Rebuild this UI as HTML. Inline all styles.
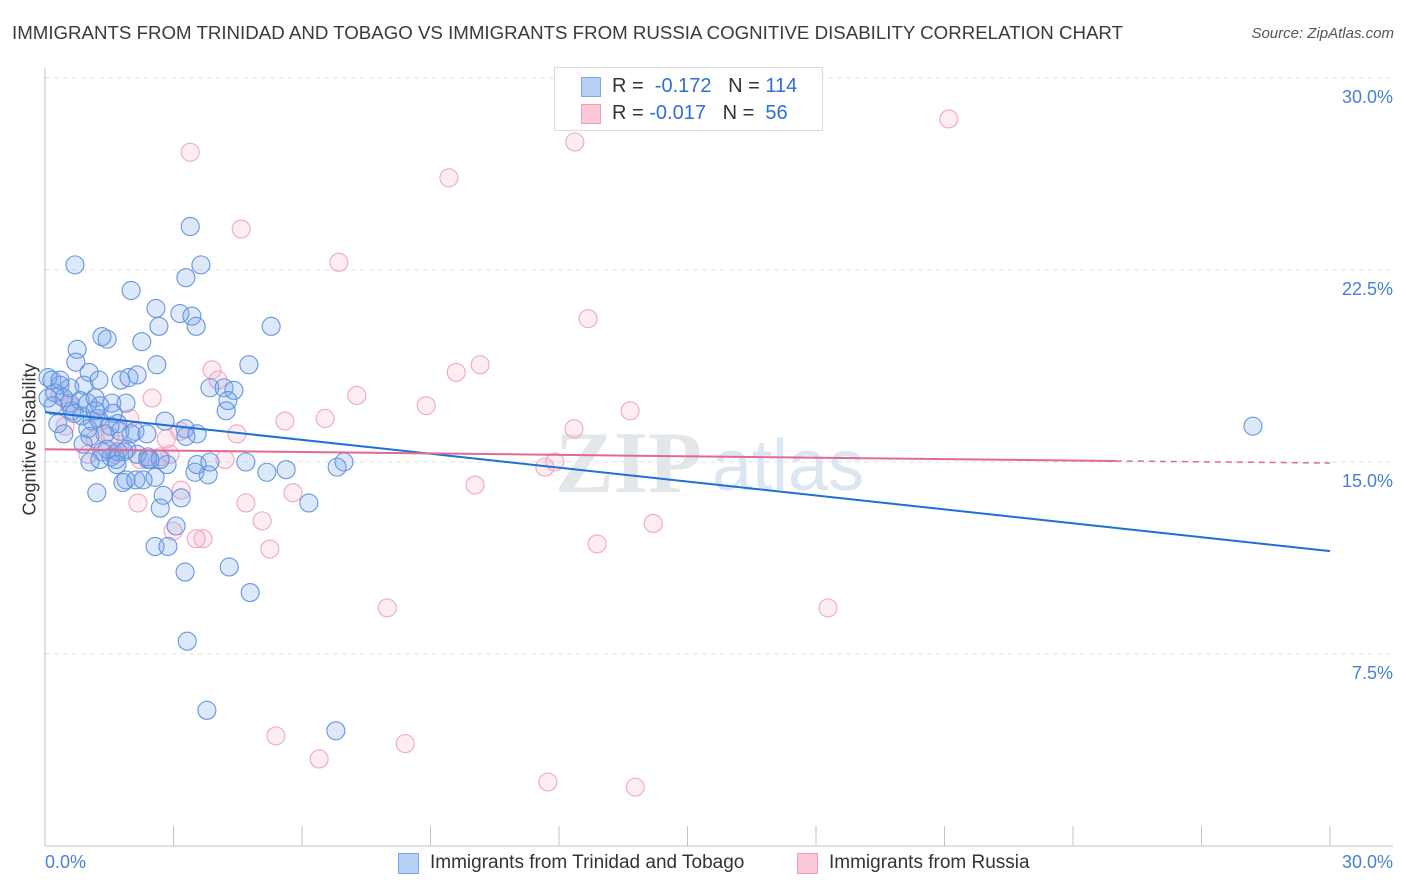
<!DOCTYPE html>
<html><head><meta charset="utf-8"><style>
body{margin:0;background:#fff;font-family:"Liberation Sans",sans-serif;}
#wrap{position:relative;width:1406px;height:892px;overflow:hidden;}
.t{position:absolute;white-space:nowrap;}
</style></head><body>
<div id="wrap">
<div class="t" style="left:12px;top:22px;font-size:18.7px;color:#3a3a3a;">IMMIGRANTS FROM TRINIDAD AND TOBAGO VS IMMIGRANTS FROM RUSSIA COGNITIVE DISABILITY CORRELATION CHART</div>
<div class="t" style="right:12px;top:25px;font-size:15px;color:#555;font-style:italic;">Source: ZipAtlas.com</div>
<svg id="plot" width="1406" height="892" style="position:absolute;left:0;top:0"></svg>
</div>
<script>
const blueX=[0.70,3.39,2.01,2.59,3.29,3.64,2.66,3.15,3.43,3.53,5.28,1.33,1.45,0.75,2.26,0.72,2.61,4.76,1.03,1.26,1.77,1.96,2.15,0.91,0.07,0.16,0.35,0.23,0.44,0.58,0.82,1.17,1.56,1.89,3.85,4.18,4.41,4.27,4.23,2.80,1.70,1.59,1.24,1.10,0.86,0.63,0.30,0.44,1.05,1.40,1.75,2.01,3.27,3.55,1.33,1.54,1.70,1.91,2.40,1.05,1.28,1.66,2.85,2.40,3.55,3.81,3.50,4.69,5.18,5.63,6.98,6.82,2.57,1.89,1.82,2.12,2.29,1.21,2.76,3.18,2.69,6.16,3.06,2.57,2.87,3.27,4.30,4.79,3.32,3.78,6.79,28.2,0.07,0.58,0.19,1.0,1.28,1.52,1.84,2.10,2.38,2.69,3.85,3.29,0.89,0.35,0.68,1.0,1.17,1.45,1.68,2.15,2.45];
const blueY=[22.7,24.2,21.7,21.0,22.2,22.7,20.3,20.8,20.7,20.3,20.3,19.9,19.8,19.4,19.7,18.9,18.8,18.8,18.5,18.2,18.2,18.3,18.4,18.0,18.3,18.2,18.0,17.7,17.5,17.3,17.4,17.5,17.3,17.3,17.9,17.9,17.8,17.4,17.0,16.6,16.5,16.9,16.7,16.6,16.8,17.0,16.5,16.1,16.0,16.1,16.2,16.1,16.3,16.1,15.4,15.2,15.4,15.5,15.2,15.0,15.1,15.1,14.9,15.1,14.9,14.5,14.6,15.0,14.6,14.7,15.0,14.8,14.4,14.3,14.2,14.3,14.3,13.8,13.7,13.6,13.2,13.4,12.5,11.7,11.7,10.7,10.9,9.9,8.0,5.3,4.5,16.4,17.5,17.9,17.2,17.3,17.2,16.4,15.4,16.2,16.1,15.1,15.0,16.0,15.7,18.2,16.9,16.3,17.0,15.5,14.9,15.3,15.1];
const pinkX=[3.39,12.37,21.1,9.43,4.58,6.86,12.68,3.90,10.16,9.60,4.04,7.28,2.50,8.90,13.66,5.60,6.54,1.98,4.48,2.83,1.52,12.35,1.75,1.0,2.69,4.20,11.67,11.9,10.04,3.18,5.79,4.69,2.17,5.07,14.2,2.99,3.53,3.69,5.25,12.89,7.99,18.28,5.39,6.40,8.41,11.74,13.78,0.35,0.58,1.28,0.47,1.17,2.22,2.92,3.15,1.63];
const pinkY=[27.1,27.5,28.4,26.1,24.1,22.8,20.6,18.6,18.8,18.5,18.2,17.6,17.5,17.2,17.0,16.6,16.7,16.7,16.1,15.9,16.0,16.3,15.7,15.3,15.2,15.1,14.8,15.0,14.1,13.9,13.8,13.4,13.4,12.7,12.6,12.3,12.0,12.0,11.6,11.8,9.3,9.3,4.3,3.4,4.0,2.5,2.3,17.6,17.2,16.6,16.4,15.9,15.1,15.3,16.2,15.3];
const blueTrend=[16.95,11.52];
const pinkTrend=[15.5,15.04,14.96];
const yTicks=[7.5,15,22.5,30];
const yTickLabels=["7.5%","15.0%","22.5%","30.0%"];

const NS="http://www.w3.org/2000/svg";
const svg=document.getElementById('plot');
const X0=45,X1=1330,Y0=846,Y30=78;
const sx=v=>X0+(X1-X0)*v/30;
const sy=v=>Y0-(Y0-Y30)*v/30;
function mk(tag,attrs,parent){const e=document.createElementNS(NS,tag);for(const k in attrs)e.setAttribute(k,attrs[k]);(parent||svg).appendChild(e);return e;}

yTicks.forEach((t,i)=>{
  const g=mk('line',{x1:X0,x2:1393,y1:sy(t),y2:sy(t),stroke:'#dde0e4','stroke-dasharray':'5,4','stroke-width':1});
  
  
  const tx=mk('text',{x:1393,y:sy(t)+25,'text-anchor':'end','font-size':18,fill:'#4a7fd6','font-family':'Liberation Sans, sans-serif'});
  tx.textContent=yTickLabels[i];
  
  
});
const wm=mk('text',{x:555,y:492,'font-size':88,fill:'#e4e7ea','font-family':'Liberation Serif, serif','font-weight':'bold'});
wm.textContent='ZIP';


const wm2=mk('text',{x:712,y:490,'font-size':72,fill:'#dbe6f3','font-family':'Liberation Sans, sans-serif'});
wm2.textContent='atlas';


const ya=mk('line',{x1:X0,x2:X0,y1:68,y2:Y0,stroke:'#bfc3c8','stroke-width':1});


const xa=mk('line',{x1:X0,x2:1393,y1:Y0,y2:Y0,stroke:'#bfc3c8','stroke-width':1});


for(let i=0;i<=10;i++){
  const tk=mk('line',{x1:sx(i*3),x2:sx(i*3),y1:Y0,y2:Y0-20,stroke:'#bfc3c8','stroke-width':1});
  
  
}
function pts(xs,ys,fill,stroke,name){
  xs.forEach((x,i)=>{
    const c=mk('circle',{cx:sx(x),cy:sy(ys[i]),r:9,fill:fill,stroke:stroke,'stroke-width':1.1});
    
    
  });
}
pts(pinkX,pinkY,'rgba(245,160,190,0.2)','#efa8c0','russia-point');
pts(blueX,blueY,'rgba(120,165,235,0.25)','#6496df','trinidad-point');
const bl=mk('line',{x1:sx(0),y1:sy(blueTrend[0]),x2:sx(30),y2:sy(blueTrend[1]),stroke:'#1f6fd8','stroke-width':2});


const pl=mk('line',{x1:sx(0),y1:sy(pinkTrend[0]),x2:sx(25),y2:sy(pinkTrend[1]),stroke:'#e06a95','stroke-width':2});


const pd=mk('line',{x1:sx(25),y1:sy(pinkTrend[1]),x2:sx(30),y2:sy(pinkTrend[2]),stroke:'#e06a95','stroke-width':1.5,'stroke-dasharray':'6,5'});


</script>
<div class="t" style="left:-30px;top:445px;transform:rotate(-90deg);transform-origin:center;width:120px;text-align:center;font-size:18px;color:#333;">Cognitive Disability</div>
<div class="t" style="left:45px;top:852px;font-size:18px;color:#4a7fd6;">0.0%</div>
<div class="t" style="right:13px;top:852px;font-size:18px;color:#4a7fd6;">30.0%</div>
<div style="position:absolute;left:554px;top:67px;width:267px;height:62px;border:1px solid #d8dbde;background:#fff;font-size:20px;">
  <div style="position:absolute;left:26px;top:9px;width:18px;height:18px;background:#b7d0f5;border:1px solid #7ea7e6;"></div>
  <div class="t" style="left:57px;top:7px;color:#333;">R = <span style="color:#2f6fd3">&nbsp;-0.172</span>&nbsp;&nbsp;&nbsp;N = <span style="color:#2f6fd3">114</span></div>
  <div style="position:absolute;left:26px;top:36px;width:18px;height:18px;background:#fac8d7;border:1px solid #eda0bb;"></div>
  <div class="t" style="left:57px;top:34px;color:#333;">R = <span style="color:#2f6fd3">-0.017</span>&nbsp;&nbsp;&nbsp;N = <span style="color:#2f6fd3">&nbsp;56</span></div>
</div>
<div style="position:absolute;left:398px;top:853px;">
  <div style="position:absolute;left:0;top:0;width:19px;height:19px;background:#b7d0f5;border:1px solid #7ea7e6;"></div>
  <div class="t" style="left:32px;top:-1px;font-size:19px;color:#333;">Immigrants from Trinidad and Tobago</div>
</div>
<div style="position:absolute;left:797px;top:853px;">
  <div style="position:absolute;left:0;top:0;width:19px;height:19px;background:#fac8d7;border:1px solid #eda0bb;"></div>
  <div class="t" style="left:32px;top:-1px;font-size:19px;color:#333;">Immigrants from Russia</div>
</div>
</body></html>
